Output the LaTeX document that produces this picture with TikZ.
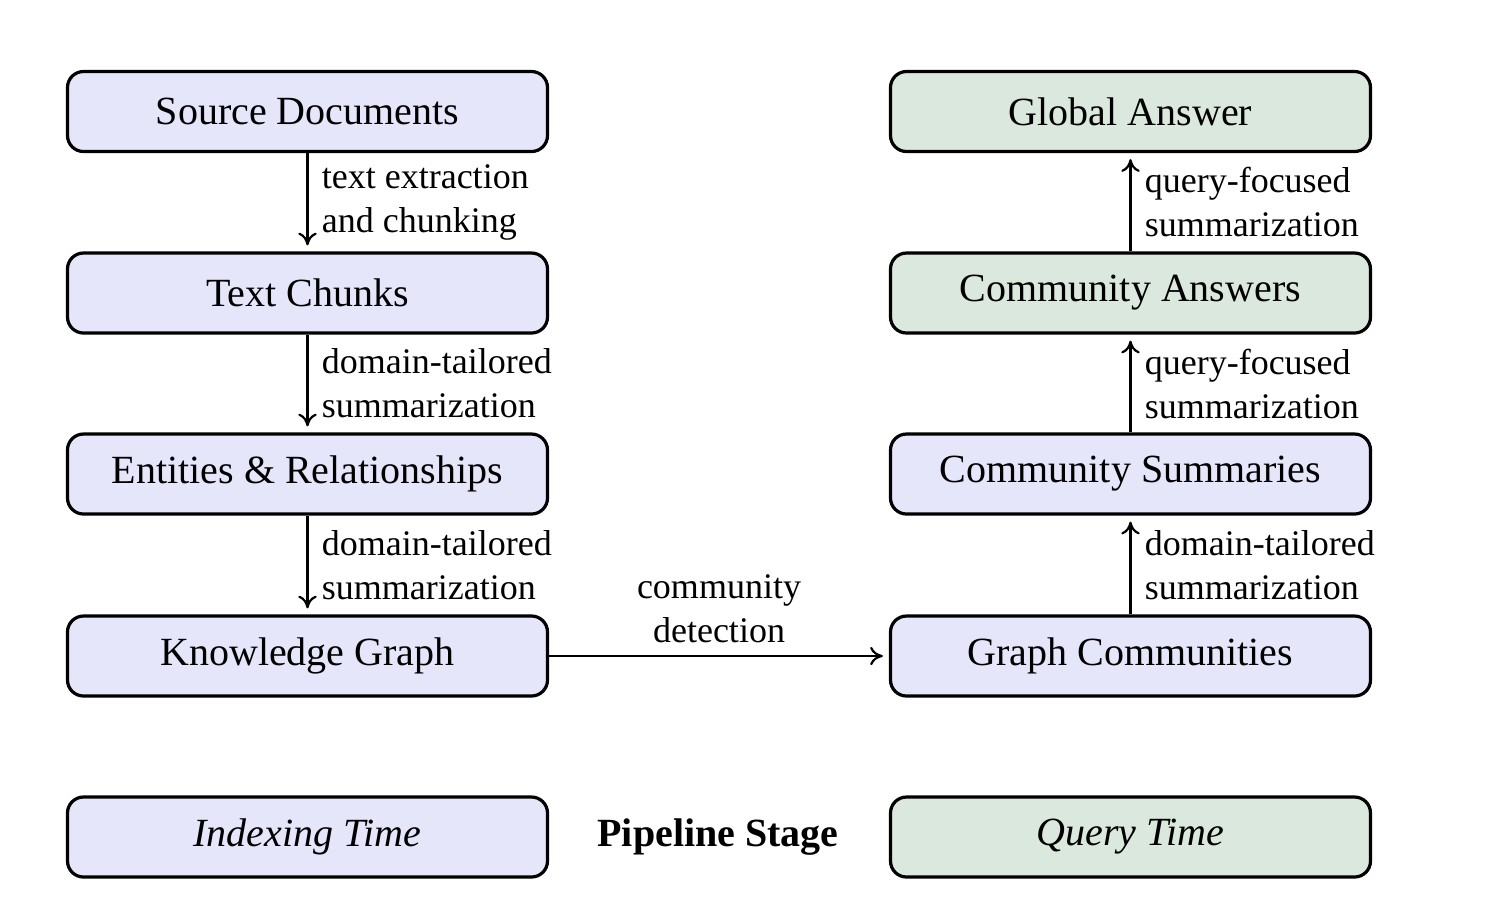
\documentclass[tikz,border=0pt]{standalone}
\usepackage{fontspec}
\setmainfont{Liberation Serif}
\usetikzlibrary{arrows.meta}
\definecolor{idxblue}{RGB}{230,230,250}
\definecolor{qrygreen}{RGB}{219,232,221}
\tikzset{
  stagebox/.style={draw=black, line width=0.8pt, rounded corners=4pt, minimum width=120pt, minimum height=20pt, inner sep=0pt, font=\normalsize},
  idx/.style={stagebox, fill=idxblue},
  qry/.style={stagebox, fill=qrygreen},
  flow/.style={-{To[length=3.2pt,width=4.6pt]}, line width=0.55pt, shorten >=1.5pt},
  lbl/.style={font=\small, align=left, inner sep=3.3pt}
}
\begin{document}
\begin{tikzpicture}[x=0.25pt, y=-0.25pt]
\useasboundingbox (0,0) rectangle (1512,904);
\node[idx] (src) at (307.5,111.5) {Source Documents};
\node[idx] (chunks) at (307.5,293) {Text Chunks};
\node[idx] (ents) at (307.5,474) {Entities \& Relationships};
\node[idx] (kg) at (307.5,656) {Knowledge Graph};
\node[qry] (glob) at (1130.5,111.5) {Global Answer};
\node[qry] (cans) at (1130.5,293) {Community Answers};
\node[idx] (csum) at (1130.5,474) {Community Summaries};
\node[idx] (gcom) at (1130.5,656) {Graph Communities};
\node[idx] (legi) at (307.5,837) {\itshape Indexing Time};
\node[qry] (legq) at (1130.5,837) {\itshape Query Time};
\node[font=\bfseries] (stage) at (718,837) {Pipeline Stage};
\draw[flow] (src) -- node[lbl, right] {text extraction\\and chunking} (chunks);
\draw[flow] (chunks) -- node[lbl, right] {domain-tailored\\summarization} (ents);
\draw[flow] (ents) -- node[lbl, right] {domain-tailored\\summarization} (kg);
\draw[flow] (kg) -- node[lbl, above, align=center, inner sep=3pt] {community\\detection} (gcom);
\draw[flow] (gcom) -- node[lbl, right] {domain-tailored\\summarization} (csum);
\draw[flow] (csum) -- node[lbl, right] {query-focused\\summarization} (cans);
\draw[flow] (cans) -- node[lbl, right] {query-focused\\summarization} (glob);
\end{tikzpicture}
\end{document}
